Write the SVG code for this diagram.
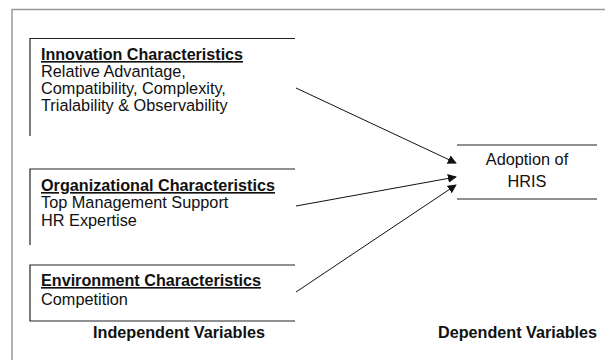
<svg xmlns="http://www.w3.org/2000/svg" width="606" height="360" viewBox="0 0 606 360">
<defs>
<style>
text{font-family:"Liberation Sans",Arial,sans-serif;font-size:16.3px;fill:#111}
.h{font-weight:bold;text-decoration:underline}
.b{font-weight:bold}
.ln{stroke:#222;stroke-width:1.2;fill:none}
.fr{stroke:#999;stroke-width:1.5;fill:none}
.ar{stroke:#111;stroke-width:1;fill:none;marker-end:url(#ah)}
</style>
<marker id="ah" viewBox="0 0 10 10" refX="9" refY="5" markerWidth="9" markerHeight="9" markerUnits="userSpaceOnUse" orient="auto">
<path d="M0,0 L10,5 L0,10 z" fill="#111"/>
</marker>
</defs>
<rect width="606" height="360" fill="#fff"/>
<path class="fr" d="M12,360 V9.5 H605"/>
<g id="innovation">
<path class="ln" d="M30,136 V38.5 H295"/>
<text class="h" x="41" y="60" textLength="202" lengthAdjust="spacingAndGlyphs">Innovation  Characteristics</text>
<text x="41" y="77">Relative Advantage,</text>
<text x="41" y="94">Compatibility, Complexity,</text>
<text x="41" y="111">Trialability &amp; Observability</text>
</g>
<g id="organizational">
<path class="ln" d="M30,245 V169 H295"/>
<text class="h" x="41" y="191" textLength="234" lengthAdjust="spacingAndGlyphs">Organizational  Characteristics</text>
<text x="41" y="208">Top Management Support</text>
<text x="41" y="226">HR Expertise</text>
</g>
<g id="environment">
<path class="ln" d="M295,265 H30 V321 H295"/>
<text class="h" x="41" y="286" textLength="220" lengthAdjust="spacingAndGlyphs">Environment  Characteristics</text>
<text x="41" y="305">Competition</text>
</g>
<g id="hris">
<path class="ln" d="M457,145 H597 M457,199 H597"/>
<text x="527" y="165" text-anchor="middle">Adoption of</text>
<text x="527" y="187" text-anchor="middle">HRIS</text>
</g>
<g id="labels">
<text class="b" x="93" y="338" textLength="172" lengthAdjust="spacingAndGlyphs">Independent  Variables</text>
<text class="b" x="438" y="338" textLength="159" lengthAdjust="spacingAndGlyphs">Dependent  Variables</text>
</g>
<g id="connectors">
<path class="ar" d="M296,88 L456,163"/>
<path class="ar" d="M296,206 L456,177"/>
<path class="ar" d="M296,292 L456,185"/>
</g>
</svg>
